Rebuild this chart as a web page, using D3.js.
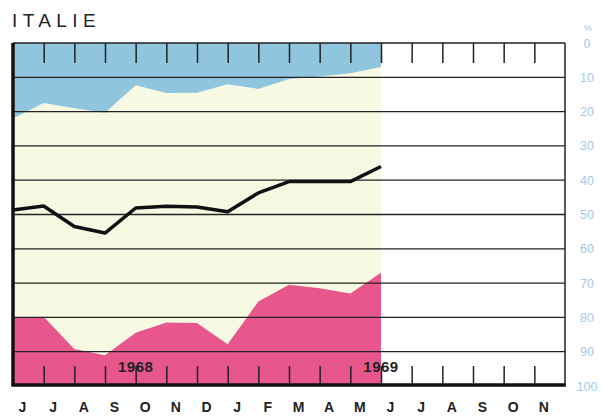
<!DOCTYPE html>
<html>
<head>
<meta charset="utf-8">
<script src="https://cdn.jsdelivr.net/npm/d3@7"></script>
<style>
	body { margin: 0; background: #fff; }
	svg { display: block; }
</style>
</head>
<body>
<svg id="chart"></svg>
<script>
// month labels, June 1968 -> November 1969
let months = ["J", "J", "A", "S", "O", "N", "D", "J", "F", "M", "A", "M", "J", "J", "A", "S", "O", "N"];
// % values (0 at top, 100 at bottom), June 1968 -> June 1969
let blueEdge = [22, 17.5, 19, 20.3, 12.3, 14.6, 14.5, 12, 13.4, 10.5, 9.8, 8.8, 7];
let lineVals = [48.7, 47.5, 53.5, 55.4, 48.1, 47.6, 47.8, 49.2, 43.7, 40.4, 40.4, 40.4, 36];
let pinkEdge = [80.2, 79.8, 89.2, 91, 84.5, 81.5, 81.6, 87.8, 75.4, 70.5, 71.5, 73, 67];
let yTicks = [0, 10, 20, 30, 40, 50, 60, 70, 80, 90, 100];
let years = [{ label: "1968", at: 4 }, { label: "1969", at: 12 }];

let w = 601;
let h = 419;

let chart = d3.select('#chart')
	.attr('width', w)
	.attr('height', h);

let xScale = d3.scaleLinear()
	.domain([0, months.length])
	.range([13, 565]);

let yScale = d3.scaleLinear()
	.domain([0, 100])
	.range([43, 386]);

let idx = d3.range(blueEdge.length);

//fills
let blueArea = d3.area()
	.x(i => xScale(i))
	.y0(yScale(0))
	.y1(i => yScale(blueEdge[i]));

let midArea = d3.area()
	.x(i => xScale(i))
	.y0(i => yScale(blueEdge[i]))
	.y1(i => yScale(pinkEdge[i]));

let pinkArea = d3.area()
	.x(i => xScale(i))
	.y0(i => yScale(pinkEdge[i]))
	.y1(yScale(100));

chart.append('path').attr('d', midArea(idx)).style('fill', '#f8f9e3');
chart.append('path').attr('d', blueArea(idx)).style('fill', '#90c5de');
chart.append('path').attr('d', pinkArea(idx)).style('fill', '#e8578b');

//grid lines
chart.selectAll('.grid')
	.data(yTicks.slice(1, -1))
	.enter()
	.append('line')
	.attr('x1', xScale(0))
	.attr('x2', xScale(months.length))
	.attr('y1', d => yScale(d))
	.attr('y2', d => yScale(d))
	.style('stroke', '#222')
	.style('stroke-width', 1.3);

//month ticks, top and bottom
let tickVals = d3.range(1, months.length);

let topAxis = chart.append('g')
	.attr('transform', `translate(0, ${yScale(0)})`)
	.call(d3.axisTop(xScale).tickValues(tickVals).tickSize(-20).tickFormat(''));

let botAxis = chart.append('g')
	.attr('transform', `translate(0, ${yScale(100)})`)
	.call(d3.axisBottom(xScale).tickValues(tickVals).tickSize(-20).tickFormat(''));

[topAxis, botAxis].forEach(g => {
	g.select('.domain').remove();
	g.selectAll('line').style('stroke', '#222').style('stroke-width', 1.5);
});

//frame
chart.append('line')
	.attr('x1', xScale(0)).attr('x2', xScale(months.length))
	.attr('y1', yScale(0)).attr('y2', yScale(0))
	.style('stroke', '#222').style('stroke-width', 1.5);

chart.append('line')
	.attr('x1', xScale(months.length)).attr('x2', xScale(months.length))
	.attr('y1', yScale(0)).attr('y2', yScale(100))
	.style('stroke', '#222').style('stroke-width', 1.5);

chart.append('line')
	.attr('x1', xScale(0) - 1.5).attr('x2', xScale(months.length) + 0.75)
	.attr('y1', yScale(100) - 1).attr('y2', yScale(100) - 1)
	.style('stroke', '#111').style('stroke-width', 3.5);

chart.append('line')
	.attr('x1', xScale(0)).attr('x2', xScale(0))
	.attr('y1', yScale(0)).attr('y2', yScale(100))
	.style('stroke', '#111').style('stroke-width', 3.5);

//black line
let line = d3.line()
	.x(i => xScale(i))
	.y(i => yScale(lineVals[i]));

chart.append('path')
	.attr('d', line(idx))
	.style('fill', 'none')
	.style('stroke', '#111')
	.style('stroke-width', 3.5)
	.attr('stroke-linejoin', 'round');

//year labels
chart.selectAll('.year')
	.data(years)
	.enter()
	.append('text')
	.attr('x', d => xScale(d.at))
	.attr('y', 372)
	.style('text-anchor', 'middle')
	.style('font-family', 'Liberation Sans, Arial, sans-serif')
	.style('font-weight', 'bold')
	.style('font-size', '15px')
	.style('letter-spacing', '0.5px')
	.style('fill', '#222')
	.text(d => d.label);

//right axis
let rightAxis = chart.append('g')
	.attr('transform', `translate(577, 0)`)
	.call(d3.axisRight(yScale).tickValues(yTicks).tickSize(0).tickPadding(10));

rightAxis.select('.domain').remove();
rightAxis.selectAll('text')
	.style('text-anchor', 'middle')
	.style('font-family', 'Liberation Sans, Arial, sans-serif')
	.style('font-size', '12.5px')
	.style('fill', '#a3c9ea');

chart.append('text')
	.attr('x', 588)
	.attr('y', 31)
	.style('text-anchor', 'middle')
	.style('font-family', 'Liberation Sans, Arial, sans-serif')
	.style('font-size', '9px')
	.style('fill', '#a3c9ea')
	.text('%');

//month labels
chart.selectAll('.month')
	.data(months)
	.enter()
	.append('text')
	.attr('x', (d, i) => xScale(i) + 9.5)
	.attr('y', 412)
	.style('text-anchor', 'middle')
	.style('font-family', 'Liberation Sans, Arial, sans-serif')
	.style('font-weight', 'bold')
	.style('font-size', '14px')
	.style('fill', '#222')
	.text(d => d);

//title
chart.append('text')
	.attr('x', 12)
	.attr('y', 27)
	.style('font-family', 'Liberation Sans, Arial, sans-serif')
	.style('font-size', '19px')
	.style('letter-spacing', '5.4px')
	.style('fill', '#222')
	.text('ITALIE');
</script>
</body>
</html>
